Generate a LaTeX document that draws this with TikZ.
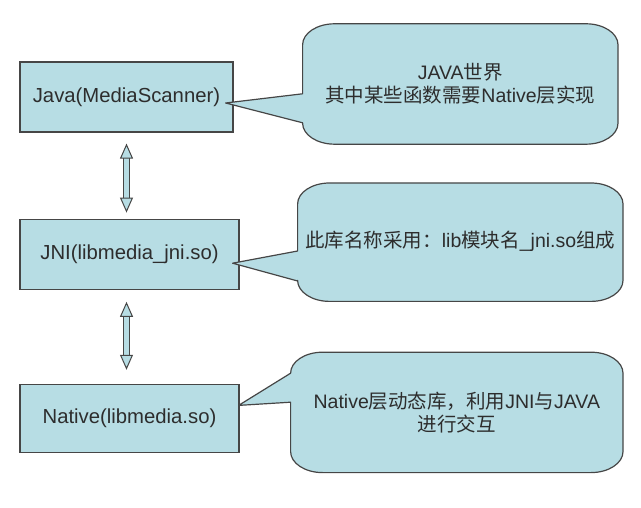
\documentclass[tikz,border=0pt]{standalone}
\usepackage{fontspec}
\setmainfont{Liberation Sans}
\newfontfamily\cjk{Noto Sans CJK SC}
\usepackage{xcolor}
\usetikzlibrary{positioning,arrows.meta}
\definecolor{boxfill}{RGB}{183,221,228}
\definecolor{edgecol}{RGB}{70,70,70}
\definecolor{textcol}{RGB}{45,45,45}
\pgfdeclarelayer{front}
\pgfsetlayers{main,front}
\tikzset{layer box/.style={rectangle,draw=edgecol,fill=boxfill,line width=1.2bp,minimum width=219bp,minimum height=70bp,inner sep=0pt,text=textcol,font=\fontsize{20.3bp}{24bp}\selectfont},
            note/.style={rectangle,inner sep=0pt,align=center,text=textcol,font=\fontsize{19.5bp}{23bp}\selectfont},
            bubble/.style={draw=edgecol,fill=boxfill,line width=1.2bp,line join=round},
            layer link/.style={draw=edgecol,line width=1bp,double=boxfill,double distance=4.5bp,
              {Triangle[length=15bp,width=13bp,fill=boxfill,line width=1bp]}-{Triangle[length=15bp,width=13bp,fill=boxfill,line width=1bp]}},
            }
% callout outline with its pointer: node, tip, top and bottom of the pointer base
\newcommand{\bubble}[4]{%
  \draw[bubble] ([yshift=-#3]#1.north west) -- ([yshift=-21bp]#1.north west)
    arc[start angle=180,end angle=90,x radius=32bp,y radius=21bp] -- ([xshift=-32bp]#1.north east)
    arc[start angle=90,end angle=0,x radius=32bp,y radius=21bp] -- ([yshift=21bp]#1.south east)
    arc[start angle=0,end angle=-90,x radius=32bp,y radius=21bp] -- ([xshift=32bp]#1.south west)
    arc[start angle=270,end angle=180,x radius=32bp,y radius=21bp] -- ([yshift=-#4]#1.north west)
    -- (#2) -- cycle;}

\begin{document}
\begin{tikzpicture}[x=1bp,y=1bp]

    \useasboundingbox (0,0) rectangle (641,508);

    \node[layer box,minimum width=213bp] (java) at (126.5,411) {Java(MediaScanner)};
    \node[layer box,below=86bp of java.south west,anchor=north west] (jni) {JNI(libmedia\_jni.so)};
    \node[layer box,below=94bp of jni.south west,anchor=north west,minimum height=68bp] (native) {Native(libmedia.so)};

    \begin{pgfonlayer}{front}
    \node[note,minimum width=315bp,minimum height=120bp,right=69bp of java,yshift=13bp] (c1)
        {JAVA{\cjk 世界}\\{\cjk 其中某些函数需要}Native{\cjk 层实现}};
    \node[note,minimum width=325bp,minimum height=118bp,right=58bp of jni,yshift=12bp] (c2)
        {\raisebox{6bp}{{\cjk 此库名称采用：}lib{\cjk 模块名}\_jni.so{\cjk 组成}}};
    \node[note,minimum width=332bp,minimum height=120bp,right=51bp of native,yshift=6bp] (c3)
        {Native{\cjk 层动态库，利用}JNI{\cjk 与}JAVA\\{\cjk 进行交互}};
    \end{pgfonlayer}

    \bubble{c1}{[xshift=-8bp,yshift=-6bp]java.east}{70bp}{99bp}
    \bubble{c2}{[xshift=-7bp,yshift=-9bp]jni.east}{68bp}{98bp}
    \bubble{c3}{[xshift=-1bp,yshift=13bp]native.east}{21bp}{50bp}

    \draw[layer link,shorten <=11bp,shorten >=6bp] (java.south) -- (java.south |- jni.north);
    \draw[layer link,shorten <=12bp,shorten >=14bp] (jni.south -| java.south) -- (java.south |- native.north);

\end{tikzpicture}
\end{document}
